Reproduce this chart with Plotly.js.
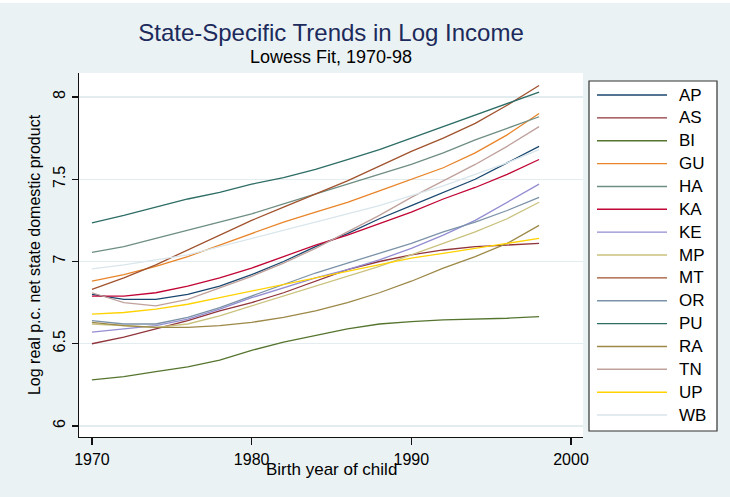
<!DOCTYPE html>
<html>
<head>
<meta charset="utf-8">
<script src="https://cdn.plot.ly/plotly-3.0.1.min.js"></script>
<style>html,body{margin:0;padding:0;background:#eaf2f3;}#chart{width:730px;height:497px;}</style>
</head>
<body>
<div id="chart"></div>
<script>
// ---- data ----
const years = [1970,1972,1974,1976,1978,1980,1982,1984,1986,1988,1990,1992,1994,1996,1998];
const states = ["AP","AS","BI","GU","HA","KA","KE","MP","MT","OR","PU","RA","TN","UP","WB"];
const AP = [6.80,6.77,6.77,6.80,6.85,6.92,7.00,7.09,7.17,7.26,7.34,7.42,7.50,7.60,7.70];
const AS = [6.50,6.54,6.59,6.64,6.70,6.75,6.81,6.88,6.95,7.00,7.04,7.07,7.09,7.10,7.11];
const BI = [6.28,6.30,6.33,6.36,6.40,6.46,6.51,6.55,6.59,6.62,6.635,6.645,6.65,6.655,6.665];
const GU = [6.88,6.92,6.97,7.03,7.10,7.17,7.24,7.30,7.36,7.43,7.50,7.57,7.66,7.77,7.90];
const HA = [7.055,7.09,7.14,7.19,7.24,7.29,7.35,7.41,7.47,7.53,7.59,7.66,7.74,7.81,7.88];
const KA = [6.79,6.79,6.81,6.85,6.90,6.96,7.03,7.10,7.16,7.23,7.30,7.38,7.45,7.53,7.62];
const KE = [6.57,6.59,6.61,6.65,6.71,6.78,6.84,6.90,6.95,7.01,7.08,7.16,7.25,7.36,7.47];
const MP = [6.62,6.61,6.60,6.62,6.67,6.73,6.79,6.85,6.91,6.97,7.04,7.11,7.18,7.26,7.36];
const MT = [6.83,6.90,6.98,7.07,7.16,7.25,7.33,7.41,7.49,7.58,7.67,7.75,7.84,7.95,8.07];
const OR = [6.64,6.62,6.62,6.66,6.72,6.79,6.86,6.93,6.99,7.05,7.11,7.18,7.24,7.31,7.39];
const PU = [7.235,7.28,7.33,7.38,7.42,7.47,7.51,7.56,7.62,7.68,7.75,7.82,7.89,7.96,8.03];
const RA = [6.63,6.61,6.60,6.60,6.61,6.63,6.66,6.70,6.75,6.81,6.88,6.96,7.03,7.11,7.22];
const TN = [6.81,6.75,6.73,6.77,6.84,6.91,6.99,7.08,7.18,7.28,7.39,7.49,7.59,7.70,7.82];
const UP = [6.68,6.69,6.71,6.74,6.78,6.82,6.86,6.90,6.94,6.98,7.02,7.05,7.08,7.11,7.14];
const WB = [6.955,6.98,7.01,7.04,7.09,7.14,7.19,7.24,7.29,7.34,7.40,7.46,7.53,7.60,7.68];
const xTicks = [1970,1980,1990,2000];
const yTicks = [6,6.5,7,7.5,8];
const yTickText = ["6","6.5","7","7.5","8"];

const seriesValues = {AP,AS,BI,GU,HA,KA,KE,MP,MT,OR,PU,RA,TN,UP,WB};
const colors = ["#1a476f","#90353b","#55752f","#e8852a","#6e8e84","#c10534","#938dd2","#cac27e",
                "#a0522d","#7b92a8","#2d6d66","#9c8847","#bfa19c","#ffd200","#d9e6eb"];

const FONT = "Arial, 'Liberation Sans', sans-serif";

const traces = states.map((s,i)=>({
  type:"scatter", mode:"lines", name:s, x:years, y:seriesValues[s],
  line:{color:colors[i], width:1.3}, showlegend:false, hoverinfo:"skip"
}));

// pixel -> paper helpers (plot area 79..583 x 73..437)
const PL=79, PR=583, PT=73, PB=437;
const px = v => (v-PL)/(PR-PL);
const py = v => (PB-v)/(PB-PT);

const shapes = [];
const annotations = [];
// legend box
shapes.push({type:"rect", xref:"paper", yref:"paper", x0:px(589), x1:px(717), y0:py(431), y1:py(81),
  fillcolor:"#ffffff", line:{color:"#333333", width:1.2}, layer:"above"});
states.forEach((s,i)=>{
  const yy = 95 + i*22.86;
  shapes.push({type:"line", xref:"paper", yref:"paper", x0:px(597), x1:px(667), y0:py(yy), y1:py(yy),
    line:{color:colors[i], width:1.4}, layer:"above"});
  annotations.push({xref:"paper", yref:"paper", x:px(677), y:py(yy), xanchor:"left", yanchor:"middle",
    text:s, showarrow:false, font:{family:FONT, size:17, color:"#000000"}});
});
// top white strip
shapes.push({type:"rect", xref:"paper", yref:"paper", x0:px(0), x1:px(730), y0:py(3), y1:py(0),
  fillcolor:"#ffffff", line:{width:0}, layer:"below"});
// subtitle
annotations.push({xref:"paper", yref:"paper", x:0.5, y:py(57), xanchor:"center", yanchor:"middle",
  text:"Lowess Fit, 1970-98", showarrow:false, font:{family:FONT, size:18, color:"#000000"}});
// x axis title
annotations.push({xref:"paper", yref:"paper", x:0.5, y:py(470), xanchor:"center", yanchor:"middle",
  text:"Birth year of child", showarrow:false, font:{family:FONT, size:17, color:"#000000"}});

const layout = {
  width:730, height:497,
  margin:{l:PL, r:730-PR, t:PT, b:497-PB, pad:0},
  paper_bgcolor:"#eaf2f3", plot_bgcolor:"#ffffff",
  title:{text:"State-Specific Trends in Log Income", xref:"paper", x:0.5, xanchor:"center",
         yref:"container", y:1-33/497, yanchor:"middle",
         font:{family:FONT, size:24, color:"#1c2a5c"}},
  xaxis:{range:[1969.19,2000.75], tickvals:xTicks, ticktext:xTicks.map(String),
         showgrid:false, zeroline:false, showline:true, linecolor:"#111111", linewidth:1.3,
         ticks:"outside", ticklen:7, tickwidth:1.3, tickcolor:"#111111",
         tickfont:{family:FONT, size:16, color:"#000000"}},
  yaxis:{range:[5.933,8.146], tickvals:yTicks, ticktext:yTickText, tickangle:-90,
         showgrid:true, gridcolor:"#e3ecee", gridwidth:1.5, zeroline:false,
         showline:true, linecolor:"#111111", linewidth:1.3,
         ticks:"outside", ticklen:6, tickwidth:1.3, tickcolor:"#111111",
         tickfont:{family:FONT, size:16, color:"#000000"},
         title:{text:"Log real p.c. net state domestic product", standoff:6,
                font:{family:FONT, size:16, color:"#000000"}}},
  shapes:shapes, annotations:annotations, showlegend:false
};

Plotly.newPlot("chart", traces, layout, {displayModeBar:false, staticPlot:true});
</script>
</body>
</html>
